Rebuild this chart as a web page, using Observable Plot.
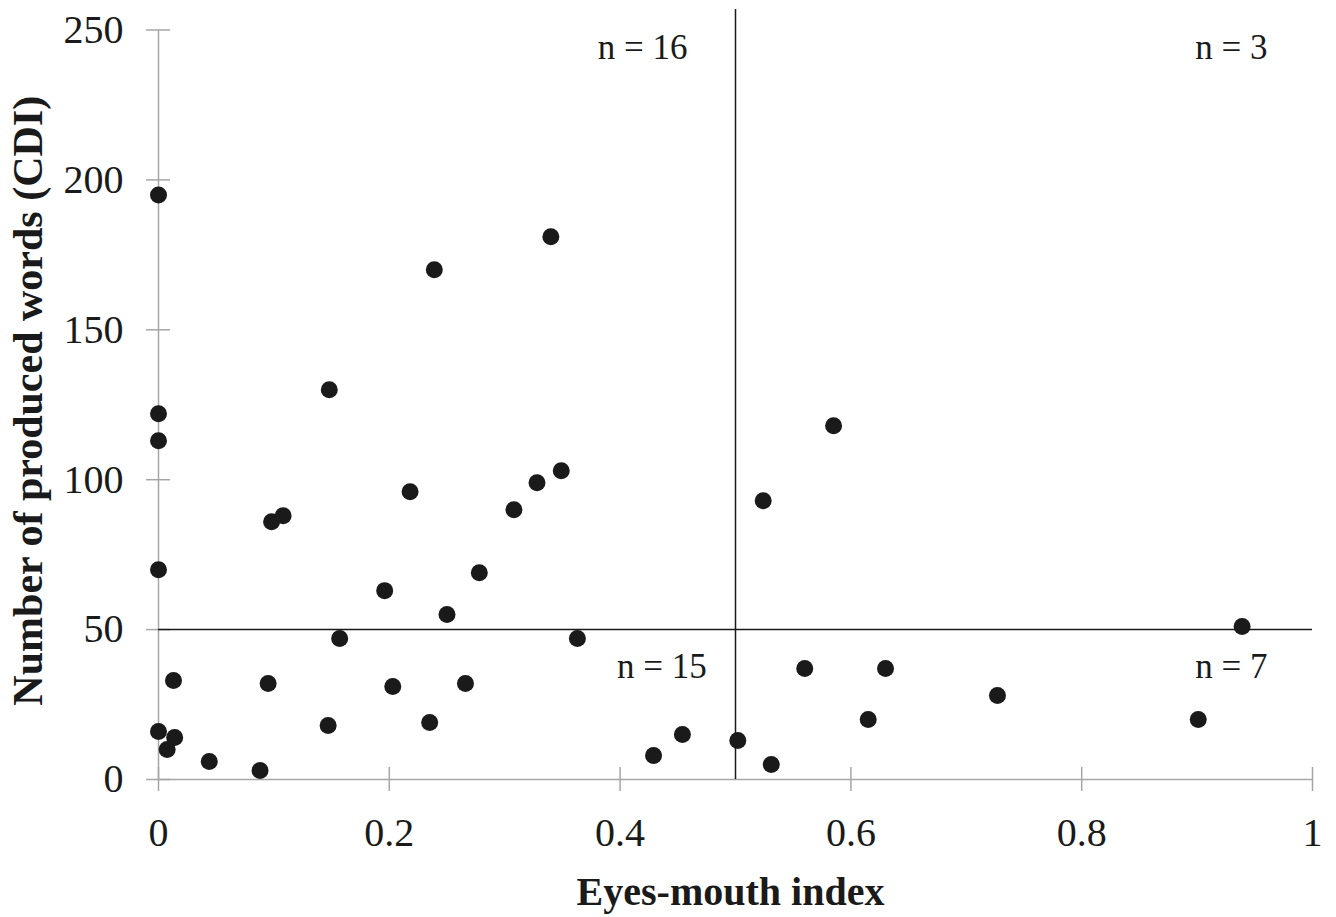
<!DOCTYPE html>
<html>
<head>
<meta charset="utf-8">
<script src="https://cdn.jsdelivr.net/npm/d3@7"></script>
<script src="https://cdn.jsdelivr.net/npm/@observablehq/plot@0.6"></script>
<style>
  html, body { margin: 0; padding: 0; background: #fff; }
</style>
</head>
<body>
<div id="chart"></div>
<script>
// Eyes-mouth index (x) and number of produced words, CDI (y)
const eyesMouth = [0, 0.148, 0.239, 0, 0, 0.340, 0.585, 0.218, 0.098, 0.108, 0, 0.196, 0.250, 0.157, 0.013,
  0.095, 0.203, 0.147, 0.235, 0, 0.014, 0.0075, 0.044, 0.088, 0.349, 0.328, 0.308, 0.278, 0.363, 0.266,
  0.429, 0.454, 0.502, 0.531, 0.524, 0.560, 0.615, 0.939, 0.630, 0.727, 0.901];
const producedWords = [195, 130, 170, 122, 113, 181, 118, 96, 86, 88, 70, 63, 55, 47, 33,
  32, 31, 18, 19, 16, 14, 10, 6, 3, 103, 99, 90, 69, 47, 32,
  8, 15, 13, 5, 93, 37, 20, 51, 37, 28, 20];

const xTicks = [0, 0.2, 0.4, 0.6, 0.8, 1];
const xTickLabels = ["0", "0.2", "0.4", "0.6", "0.8", "1"];
const yTicks = [0, 50, 100, 150, 200, 250];

const splitX = [0.5];
const splitY = [50];

const quadrantLabels = ["n = 16", "n = 15", "n = 3", "n = 7"];
const quadrantX = [0.4585, 0.475, 0.961, 0.961];
const quadrantY = [240.3, 33.8, 240.3, 34];

const xTitle = "Eyes-mouth index";
const yTitle = "Number of produced words (CDI)";

const points = eyesMouth.map((x, i) => ({x, y: producedWords[i]}));
const labels = quadrantLabels.map((text, i) => ({text, x: quadrantX[i], y: quadrantY[i]}));

const axisColor = "#a6a6a6";
const ink = "#1a1a1a";

const chart = Plot.plot({
  width: 1336,
  height: 917,
  marginLeft: 158,
  marginRight: 24,
  marginTop: 29.5,
  marginBottom: 138,
  style: {background: "#fff", fontFamily: "'Liberation Serif', 'Times New Roman', serif", fontSize: "40px", color: ink},
  x: {domain: [0, 1], label: null},
  y: {domain: [0, 250], label: null},
  marks: [
    // axis lines
    Plot.ruleX([0], {stroke: axisColor, strokeWidth: 1.5}),
    Plot.ruleY([0], {stroke: axisColor, strokeWidth: 1.5}),
    // crossing ticks
    Plot.ruleY(yTicks, {x1: 0, x2: 0, insetLeft: -12, insetRight: -12, stroke: axisColor, strokeWidth: 1.5}),
    Plot.ruleX(xTicks, {y1: 0, y2: 0, insetTop: -12, insetBottom: -12, stroke: axisColor, strokeWidth: 1.5}),
    // tick labels
    Plot.axisY({ticks: yTicks, tickSize: 0, tickPadding: 35, label: null, fill: ink, fontSize: 40}),
    Plot.axisX({ticks: xTicks, tickSize: 0, tickPadding: 38, label: null, fill: ink, fontSize: 40,
      tickFormat: (d) => xTickLabels[xTicks.indexOf(d)]}),
    // quadrant split lines
    Plot.ruleY(splitY, {stroke: ink, strokeWidth: 1.5}),
    Plot.ruleX(splitX, {stroke: ink, strokeWidth: 1.5, insetTop: -20.5}),
    // data points
    Plot.dot(points, {x: "x", y: "y", r: 8.5, fill: ink, stroke: "none"}),
    // quadrant counts
    Plot.text(labels, {x: "x", y: "y", text: "text", textAnchor: "end", lineAnchor: "bottom", fontSize: 35, fill: ink}),
    // axis titles
    Plot.text([xTitle], {frameAnchor: "bottom", text: d => d, textAnchor: "middle", lineAnchor: "bottom", dy: 125, dx: -5,
      fontSize: 40, fontWeight: "bold", fill: ink}),
    Plot.text([yTitle], {frameAnchor: "left", text: d => d, rotate: -90, textAnchor: "middle", lineAnchor: "bottom", dx: -117, dy: -4,
      fontSize: 42, fontWeight: "bold", fill: ink})
  ]
});

document.getElementById("chart").appendChild(chart);
</script>
</body>
</html>
